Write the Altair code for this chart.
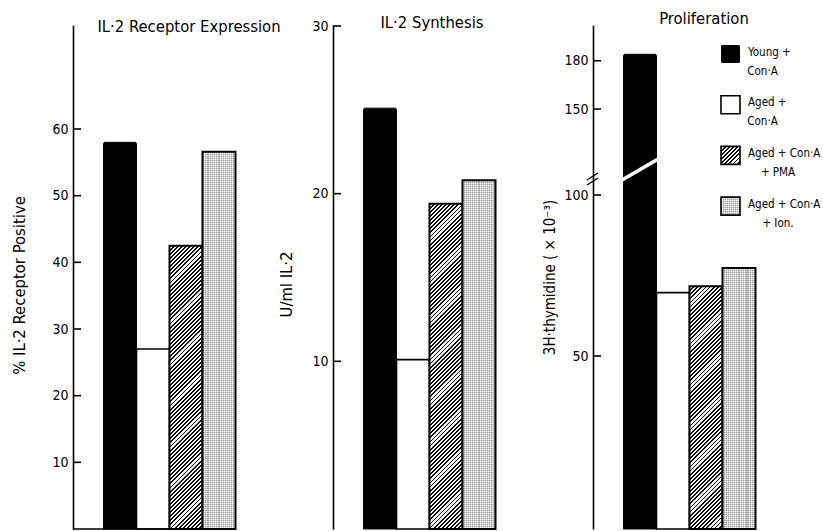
import math
import numpy as np
import pandas as pd
import altair as alt

FONT = "DejaVu Sans Condensed, Liberation Sans Narrow, DejaVu Sans, sans-serif"

# ---------------- data ----------------
groups = ["Young + Con·A", "Aged + Con·A", "Aged + Con·A + PMA", "Aged + Con·A + Ion."]
receptor_pct = [58.0, 27.0, 42.5, 56.6]       # % IL-2 receptor positive
il2_units = [25.1, 10.1, 19.4, 20.8]          # U/ml IL-2
thymidine = [184.0, 69.7, 71.7, 77.3]         # 3H-thymidine (x10^-3)

receptor_ticks = [10, 20, 30, 40, 50, 60]
synthesis_ticks = [10, 20, 30]
prolif_ticks = [50, 100, 150, 180]

panel_titles = ["IL·2 Receptor Expression", "IL·2 Synthesis", "Proliferation"]
axis_titles = ["% IL·2 Receptor Positive", "U/ml IL·2", "3H·thymidine ( × 10⁻³)"]

legend_line1 = ["Young +", "Aged +", "Aged + Con·A", "Aged + Con·A"]
legend_line2 = ["Con·A", "Con·A", "+ PMA", "+ Ion."]

break_low, break_high = 104.7, 118.9   # axis-break cut through the Young bar

# ---------------- layout / style ----------------
H = 504
STEP = 33
GAP = 30.5
SPACING = 60
WIDTHS = [200, 200, 225]
DOMAINS = [[0, 75.6], [0, 30.06], [0, 50, 105.6, 107.8, 202.2]]
RANGES = [[H, 0], [H, 0], [H, 331, 152, 152, 0]]
TITLE_POS = [(116, 1.5), (99, -2.5), (111, -6.5)]
AXIS_TITLE_POS = [(-53.3, 260), (-47, 259), (-44, 252)]
AXIS_TITLE_SIZE = [16.5, 16.5, 15]


def ypix(v, k):
    return float(np.interp(v, DOMAINS[k], RANGES[k]))


def stripe_stops(length, period, frac, on, off):
    stops = []
    n = int(math.ceil(length / period))
    for i in range(n):
        a = i * period / length
        if a >= 1:
            break
        b = min((i * period + frac * period) / length, 1.0)
        c = min((i + 1) * period / length, 1.0)
        stops += [(a, on), (b, on), (b, off), (c, off)]
    return [alt.GradientStop(offset=round(o, 6), color=col) for o, col in stops]


def hatch(w, h, period=4.1, frac=0.45):
    t = (w + h) / (w * w + h * h)
    return alt.LinearGradient(gradient="linear",
                              stops=stripe_stops(w + h, period, frac, "black", "white"),
                              x1=0, y1=0, x2=t * w, y2=t * h)


DOT_ON = "rgba(0,0,0,0.2)"
DOT_OFF = "rgba(0,0,0,0)"


def vstripes(w, period=2.0, frac=0.5):
    return alt.LinearGradient(gradient="linear",
                              stops=stripe_stops(w, period, frac, DOT_ON, DOT_OFF),
                              x1=0, y1=0, x2=1, y2=0)


def hstripes(h, period=2.0, frac=0.5):
    return alt.LinearGradient(gradient="linear",
                              stops=stripe_stops(h, period, frac, DOT_ON, DOT_OFF),
                              x1=0, y1=0, x2=0, y2=1)


def band_scale():
    return alt.Scale(domain=groups, paddingInner=0, paddingOuter=0,
                     range=[GAP, GAP + 4 * STEP])


def panel(k, values, ticks):
    df = pd.DataFrame({"group": groups, "value": values})
    xs = alt.X("group:N", scale=band_scale(), axis=None, sort=groups)
    tx, ty = AXIS_TITLE_POS[k]
    ys = alt.Y("value:Q",
               scale=alt.Scale(domain=DOMAINS[k], range=RANGES[k], nice=False, zero=False),
               axis=alt.Axis(values=ticks, ticks=False, tickSize=0, grid=False,
                             domain=True, domainColor="black", domainWidth=1.6,
                             labelFont=FONT, labelFontSize=14, labelColor="black",
                             labelPadding=5,
                             title=axis_titles[k], titleFont=FONT,
                             titleFontSize=AXIS_TITLE_SIZE[k],
                             titleFontWeight="normal", titleColor="black",
                             titleAngle=270, titleX=tx, titleY=ty,
                             titleAlign="center", titleBaseline="middle"))
    base = alt.Chart(df).encode(x=xs, y=ys)

    def sel(i):
        return base.transform_filter(alt.datum.group == groups[i])

    h_hatch = H - ypix(values[2], k)
    h_dots = H - ypix(values[3], k)

    layers = [
        sel(0).mark_bar(fill="black", stroke="black", strokeWidth=1,
                        cornerRadiusTopLeft=1.5, cornerRadiusTopRight=1.5),
        sel(1).mark_bar(fill="white", stroke="black", strokeWidth=1.6),
        sel(2).mark_bar(fill=hatch(STEP, h_hatch)),
        sel(2).mark_bar(fill="white", fillOpacity=0, stroke="black", strokeWidth=2),
        sel(3).mark_bar(fill="white"),
        sel(3).mark_bar(fill=vstripes(STEP)),
        sel(3).mark_bar(fill=hstripes(h_dots)),
        sel(3).mark_bar(fill="white", fillOpacity=0, stroke="black", strokeWidth=2),
    ]
    # inward tick marks
    layers.append(alt.Chart(pd.DataFrame({"value": ticks})).mark_rule(
        color="black", strokeWidth=1.6).encode(y=ys, x=alt.value(0), x2=alt.value(8)))
    # panel title
    cx, cy = TITLE_POS[k]
    layers.append(alt.Chart(pd.DataFrame({"t": [panel_titles[k]]})).mark_text(
        font=FONT, fontSize=16.5, color="black", align="center", baseline="middle"
    ).encode(text="t:N", x=alt.value(cx), y=alt.value(cy)))

    if k == 0:
        layers.append(alt.Chart(pd.DataFrame({"value": [0]})).mark_rule(
            color="black", strokeWidth=1.5).encode(y=ys, x=alt.value(0), x2=alt.value(163)))
        # invisible anchor that fixes the page origin
        layers.append(alt.Chart(pd.DataFrame({"a": [0]})).mark_rect(
            fill="white", opacity=0).encode(x=alt.value(-72.5), x2=alt.value(-71),
                                            y=alt.value(-25), y2=alt.value(-24)))
    if k == 2:
        bdf = pd.DataFrame({"group": [groups[0]], "value": [break_low], "value2": [break_high]})
        layers.append(alt.Chart(bdf).mark_rule(
            color="white", strokeWidth=3.5, xOffset=-18, x2Offset=18
        ).encode(x=xs, x2=alt.X2("group"), y=ys, y2=alt.Y2("value2")))
        # axis break slashes
        for dy in (0, -5):
            layers.append(alt.Chart(pd.DataFrame({"a": [0]})).mark_rule(
                color="black", strokeWidth=1.4).encode(
                x=alt.value(-6), x2=alt.value(5), y=alt.value(160 + dy), y2=alt.value(153 + dy)))
        # legend
        leg = pd.DataFrame({"i": [0, 1, 2, 3], "l1": legend_line1, "l2": legend_line2})
        for i in range(4):
            yc = 29 + 50.7 * i
            row = alt.Chart(leg).transform_filter(alt.datum.i == i)
            sw = dict(x=alt.value(128), x2=alt.value(147), y=alt.value(yc - 9), y2=alt.value(yc + 9))
            if i == 0:
                layers.append(row.mark_rect(fill="black", cornerRadius=1.5).encode(**sw))
            elif i == 1:
                layers.append(row.mark_rect(fill="white", stroke="black", strokeWidth=1.6).encode(**sw))
            elif i == 2:
                layers.append(row.mark_rect(fill=hatch(19, 18)).encode(**sw))
                layers.append(row.mark_rect(fill="white", fillOpacity=0, stroke="black",
                                            strokeWidth=1.6).encode(**sw))
            else:
                layers.append(row.mark_rect(fill="white").encode(**sw))
                layers.append(row.mark_rect(fill=vstripes(19)).encode(**sw))
                layers.append(row.mark_rect(fill=hstripes(18)).encode(**sw))
                layers.append(row.mark_rect(fill="white", fillOpacity=0, stroke="black",
                                            strokeWidth=1.6).encode(**sw))
            layers.append(row.mark_text(font=FONT, fontSize=11.5, color="black",
                                        align="left", baseline="middle").encode(
                text="l1:N", x=alt.value(155), y=alt.value(yc - 1.5)))
            layers.append(row.mark_text(font=FONT, fontSize=11.5, color="black",
                                        align="center", baseline="middle").encode(
                text="l2:N", x=alt.value(169.5 if i < 2 else 185), y=alt.value(yc + 17.5)))

    return alt.layer(*layers).properties(width=WIDTHS[k], height=H)


p1 = panel(0, receptor_pct, receptor_ticks)
p2 = panel(1, il2_units, synthesis_ticks)
p3 = panel(2, thymidine, prolif_ticks)

chart = alt.hconcat(p1, p2, p3, spacing=SPACING, bounds="flush").properties(
    padding=0, background="white"
).configure_view(stroke=None)

chart.save("out.html", embed_options={"renderer": "svg", "actions": False})
